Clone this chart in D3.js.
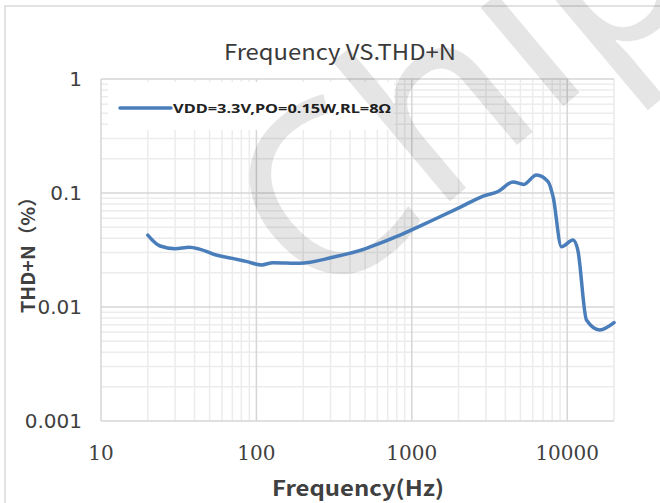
<!DOCTYPE html>
<html>
<head>
<meta charset="utf-8">
<script src="https://cdn.jsdelivr.net/npm/d3@7"></script>
<style>
  body { margin: 0; background: #fff; }
  svg { display: block; }
</style>
</head>
<body>
<div id="chart"></div>
<script>
// data
var freq = [20, 24, 30, 37, 43, 55, 70, 87, 108, 128, 190, 310, 510, 620, 840,
            1370, 2040, 2880, 3590, 4480, 5250, 6340, 7530, 8110, 9180, 10900,
            11700, 13300, 16200, 20000];
var thd = [0.0428, 0.0343, 0.0325, 0.0334, 0.0322, 0.0286, 0.0267, 0.025, 0.0234, 0.0245,
           0.0242, 0.0273, 0.0327, 0.0362, 0.0428, 0.058, 0.0748, 0.094, 0.103, 0.125,
           0.119, 0.144, 0.126, 0.0928, 0.0338, 0.0387, 0.0316, 0.0077, 0.0063, 0.0073];
var xTicks = [10, 100, 1000, 10000];
var yTicks = [0.001, 0.01, 0.1, 1];
var seriesName = "VDD=3.3V,PO=0.15W,RL=8Ω";

var width = 660, height = 503;
var plot = { left: 101, right: 614, top: 79, bottom: 421 };

var svg = d3.select("#chart").append("svg")
  .attr("width", width)
  .attr("height", height);

// outer frame
svg.append("rect")
  .attr("x", 5).attr("y", 6)
  .attr("width", 700).attr("height", 600)
  .attr("fill", "#fff")
  .attr("stroke", "#d9d9d9")
  .attr("stroke-width", 1.5);

var x = d3.scaleLog().domain([10, 20000]).range([plot.left, plot.right]);
var y = d3.scaleLog().domain([0.001, 1]).range([plot.bottom, plot.top]);

// grid values: every 1..9 step per decade
var xGrid = [];
for (var d = 10; d < 20000; d *= 10) {
  for (var k = 1; k < 10; k++) { if (d * k <= 20000) xGrid.push(d * k); }
}
xGrid.push(20000);
var yGrid = [];
for (var e = 0.001; e < 0.999; e *= 10) {
  for (var j = 1; j < 10; j++) yGrid.push(e * j);
}
yGrid.push(1);

function isMajor(v) {
  var l = Math.log10(v);
  return Math.abs(l - Math.round(l)) < 1e-6;
}

var grid = svg.append("g");
grid.selectAll(".vx")
  .data(xGrid.filter(function(v) { return !isMajor(v); }))
  .enter().append("line")
  .attr("x1", function(v) { return x(v); })
  .attr("x2", function(v) { return x(v); })
  .attr("y1", plot.top).attr("y2", plot.bottom)
  .attr("stroke", "#ececec").attr("stroke-width", 1.5);
grid.selectAll(".hy")
  .data(yGrid.filter(function(v) { return !isMajor(v); }))
  .enter().append("line")
  .attr("y1", function(v) { return y(v); })
  .attr("y2", function(v) { return y(v); })
  .attr("x1", plot.left).attr("x2", plot.right)
  .attr("stroke", "#ececec").attr("stroke-width", 1.5);
grid.selectAll(".vxm")
  .data(xGrid.filter(isMajor))
  .enter().append("line")
  .attr("x1", function(v) { return x(v); })
  .attr("x2", function(v) { return x(v); })
  .attr("y1", plot.top).attr("y2", plot.bottom)
  .attr("stroke", "#d6d6d6").attr("stroke-width", 1.5);
grid.selectAll(".hym")
  .data(yGrid.filter(isMajor))
  .enter().append("line")
  .attr("y1", function(v) { return y(v); })
  .attr("y2", function(v) { return y(v); })
  .attr("x1", plot.left).attr("x2", plot.right)
  .attr("stroke", "#d6d6d6").attr("stroke-width", 1.5);

// legend box hides grid behind it
svg.append("rect")
  .attr("x", 108).attr("y", 82)
  .attr("width", 286).attr("height", 48)
  .attr("fill", "#fff");
svg.append("line")
  .attr("x1", 120).attr("x2", 171)
  .attr("y1", 108).attr("y2", 108)
  .attr("stroke", "#4a7ebb").attr("stroke-width", 3.5)
  .attr("stroke-linecap", "round");
svg.append("text")
  .attr("x", 173).attr("y", 113)
  .attr("font-family", "Noto Sans, sans-serif")
  .attr("font-size", 13).attr("font-weight", "bold")
  .attr("fill", "#222")
  .attr("textLength", 218).attr("lengthAdjust", "spacingAndGlyphs")
  .text(seriesName);

// watermark
svg.append("text")
  .attr("transform", "translate(318,312) rotate(-40)")
  .attr("font-family", "Noto Sans, sans-serif")
  .attr("font-size", 240)
  .attr("fill", "#000").attr("fill-opacity", 0.1)
  .text("Chip");

// data line
var line = d3.line()
  .x(function(d, i) { return x(freq[i]); })
  .y(function(d) { return y(d); })
  .curve(d3.curveMonotoneX);
svg.append("path")
  .datum(thd)
  .attr("d", line)
  .attr("fill", "none")
  .attr("stroke", "#4a7ebb")
  .attr("stroke-width", 3.5)
  .attr("stroke-linejoin", "round")
  .attr("stroke-linecap", "round");

// tick labels
svg.selectAll(".ylab")
  .data(yTicks).enter().append("text")
  .attr("x", 82).attr("y", function(v) { return y(v); })
  .attr("dy", "0.36em")
  .attr("text-anchor", "end")
  .attr("font-family", "DejaVu Sans, sans-serif")
  .attr("font-size", 20).attr("fill", "#404040")
  .text(function(v) { return String(v); });
svg.selectAll(".xlab")
  .data(xTicks).enter().append("text")
  .attr("x", function(v) { return x(v); }).attr("y", 460)
  .attr("text-anchor", "middle")
  .attr("font-family", "DejaVu Serif, serif")
  .attr("font-size", 20).attr("fill", "#404040")
  .text(function(v) { return String(v); });

// titles
svg.append("text")
  .attr("x", 340).attr("y", 60)
  .attr("text-anchor", "middle")
  .attr("font-family", "Noto Sans CJK SC, Noto Sans, sans-serif")
  .attr("font-size", 21).attr("fill", "#3a3a3a")
  .attr("textLength", 232).attr("lengthAdjust", "spacingAndGlyphs")
  .text("Frequency VS.THD+N");
svg.append("text")
  .attr("x", 358).attr("y", 496)
  .attr("text-anchor", "middle")
  .attr("font-family", "Noto Sans CJK SC, Noto Sans, sans-serif")
  .attr("font-size", 21).attr("font-weight", "bold").attr("fill", "#404040")
  .attr("textLength", 172).attr("lengthAdjust", "spacingAndGlyphs")
  .text("Frequency(Hz)");
svg.append("text")
  .attr("transform", "translate(35,250) rotate(-90)")
  .attr("text-anchor", "middle")
  .attr("font-family", "Noto Sans CJK SC, Noto Sans, sans-serif")
  .attr("font-size", 19).attr("font-weight", "bold").attr("fill", "#404040")
  .attr("textLength", 126).attr("lengthAdjust", "spacingAndGlyphs")
  .text("THD+N（%）");
</script>
</body>
</html>
